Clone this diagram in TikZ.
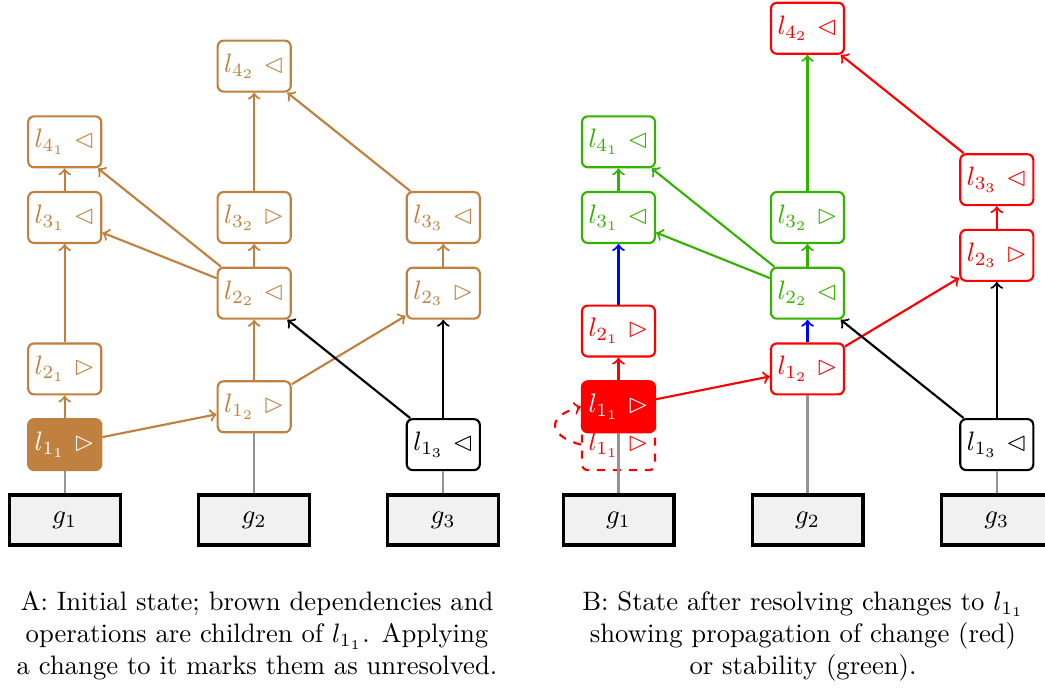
\documentclass[tikz,border=0pt]{standalone}
\usepackage{amssymb}

\definecolor{depbrown}{RGB}{192,128,64}
\definecolor{stablegreen}{RGB}{51,178,0}
\definecolor{groupfill}{RGB}{241,241,241}

\newcommand\oplabel[3]{$l_{#1_#2}$\ $#3$}

\tikzset{
  opbox/.style={draw, rounded corners=2.2pt, line width=0.8pt,
    minimum width=27.4pt, minimum height=19.1pt, inner sep=0pt},
  grpbox/.style={draw=black, fill=groupfill, line width=1.15pt,
    minimum width=41.6pt, minimum height=18.75pt, inner sep=0pt},
  link/.style={->, line width=0.8pt},
  ground/.style={line width=0.8pt, draw=black!42},
  caption/.style={align=center, inner sep=0pt}
}

\begin{document}
\begin{tikzpicture}[x=0.375pt,y=-0.375pt]
\useasboundingbox (0,0) rectangle (1045,688);

% ---------- panel A ----------
\node[grpbox] (ag1) at (64.7,520) {$g_1$};
\node[grpbox] (ag2) at (254.2,520) {$g_2$};
\node[grpbox] (ag3) at (443.3,520) {$g_3$};

\node[opbox, draw=depbrown, fill=depbrown, text=white] (a11) at (64.7,444.6) {\oplabel11\rhd};
\node[opbox, draw=depbrown, text=depbrown] (a21) at (64.7,368.9) {\oplabel21\rhd};
\node[opbox, draw=depbrown, text=depbrown] (a31) at (64.7,217.5) {\oplabel31\lhd};
\node[opbox, draw=depbrown, text=depbrown] (a41) at (64.7,141.8) {\oplabel41\lhd};

\node[opbox, draw=depbrown, text=depbrown] (a12) at (254.2,406.75) {\oplabel12\rhd};
\node[opbox, draw=depbrown, text=depbrown] (a22) at (254.2,293.2) {\oplabel22\lhd};
\node[opbox, draw=depbrown, text=depbrown] (a32) at (254.2,217.5) {\oplabel32\rhd};
\node[opbox, draw=depbrown, text=depbrown] (a42) at (254.2,66.1) {\oplabel42\lhd};

\node[opbox, draw=black, text=black] (a13) at (443.3,444.6) {\oplabel13\lhd};
\node[opbox, draw=depbrown, text=depbrown] (a23) at (443.3,293.2) {\oplabel23\rhd};
\node[opbox, draw=depbrown, text=depbrown] (a33) at (443.3,217.5) {\oplabel33\lhd};

\draw[ground] (ag1) -- (a11);
\draw[ground] (ag2) -- (a12);
\draw[ground] (ag3) -- (a13);

\begin{scope}[link, draw=depbrown]
  \draw (a11) -- (a21);
  \draw (a11) -- (a12);
  \draw (a21) -- (a31);
  \draw (a31) -- (a41);
  \draw (a12) -- (a22);
  \draw (a12) -- (a23);
  \draw (a22) -- (a31);
  \draw (a22) -- (a41);
  \draw (a22) -- (a32);
  \draw (a32) -- (a42);
  \draw (a23) -- (a33);
  \draw (a33) -- (a42);
\end{scope}
\begin{scope}[link, draw=black]
  \draw (a13) -- (a23);
  \draw (a13) -- (a22);
\end{scope}

% ---------- panel B ----------
\node[grpbox] (bg1) at (618.5,520) {$g_1$};
\node[grpbox] (bg2) at (807.5,520) {$g_2$};
\node[grpbox] (bg3) at (996.8,520) {$g_3$};

% previous position of l_{1_1}
\node[opbox, draw=red, text=red, dashed] (b11old) at (618.5,444.6) {\oplabel11\rhd};

\node[opbox, draw=red, fill=red, text=white] (b11) at (618.5,406.75) {\oplabel11\rhd};
\node[opbox, draw=red, text=red] (b21) at (618.5,331.05) {\oplabel21\rhd};
\node[opbox, draw=stablegreen, text=stablegreen] (b31) at (618.5,217.5) {\oplabel31\lhd};
\node[opbox, draw=stablegreen, text=stablegreen] (b41) at (618.5,141.8) {\oplabel41\lhd};

\node[opbox, draw=red, text=red] (b12) at (807.5,368.9) {\oplabel12\rhd};
\node[opbox, draw=stablegreen, text=stablegreen] (b22) at (807.5,293.2) {\oplabel22\lhd};
\node[opbox, draw=stablegreen, text=stablegreen] (b32) at (807.5,217.5) {\oplabel32\rhd};
\node[opbox, draw=red, text=red] (b42) at (807.5,28.25) {\oplabel42\lhd};

\node[opbox, draw=black, text=black] (b13) at (996.8,444.6) {\oplabel13\lhd};
\node[opbox, draw=red, text=red] (b23) at (996.8,255.35) {\oplabel23\rhd};
\node[opbox, draw=red, text=red] (b33) at (996.8,179.65) {\oplabel33\lhd};

\draw[ground] (bg1) -- (b11);
\draw[ground] (bg2) -- (b12);
\draw[ground] (bg3) -- (b13);

\draw[link, draw=red, dashed] (b11old.west) to[out=165, in=195, looseness=2.4] (b11.west);

\begin{scope}[link, draw=red]
  \draw (b11) -- (b21);
  \draw (b11) -- (b12);
  \draw (b12) -- (b23);
  \draw (b23) -- (b33);
  \draw (b33) -- (b42);
\end{scope}
\begin{scope}[link, draw=blue]
  \draw (b21) -- (b31);
  \draw (b12) -- (b22);
\end{scope}
\begin{scope}[link, draw=stablegreen]
  \draw (b31) -- (b41);
  \draw (b22) -- (b31);
  \draw (b22) -- (b41);
  \draw (b22) -- (b32);
  \draw (b32) -- (b42);
\end{scope}
\begin{scope}[link, draw=black]
  \draw (b13) -- (b23);
  \draw (b13) -- (b22);
\end{scope}

% ---------- captions ----------
\node[caption] (capA) at (257,636) {A: Initial state; brown dependencies and\\
  operations are children of $l_{1_1}$. Applying\\
  a change to it marks them as unresolved.};
\node[caption] (capB) at (803,636) {B: State after resolving changes to $l_{1_1}$\\
  showing propagation of change (red)\\
  or stability (green).};
\end{tikzpicture}
\end{document}
